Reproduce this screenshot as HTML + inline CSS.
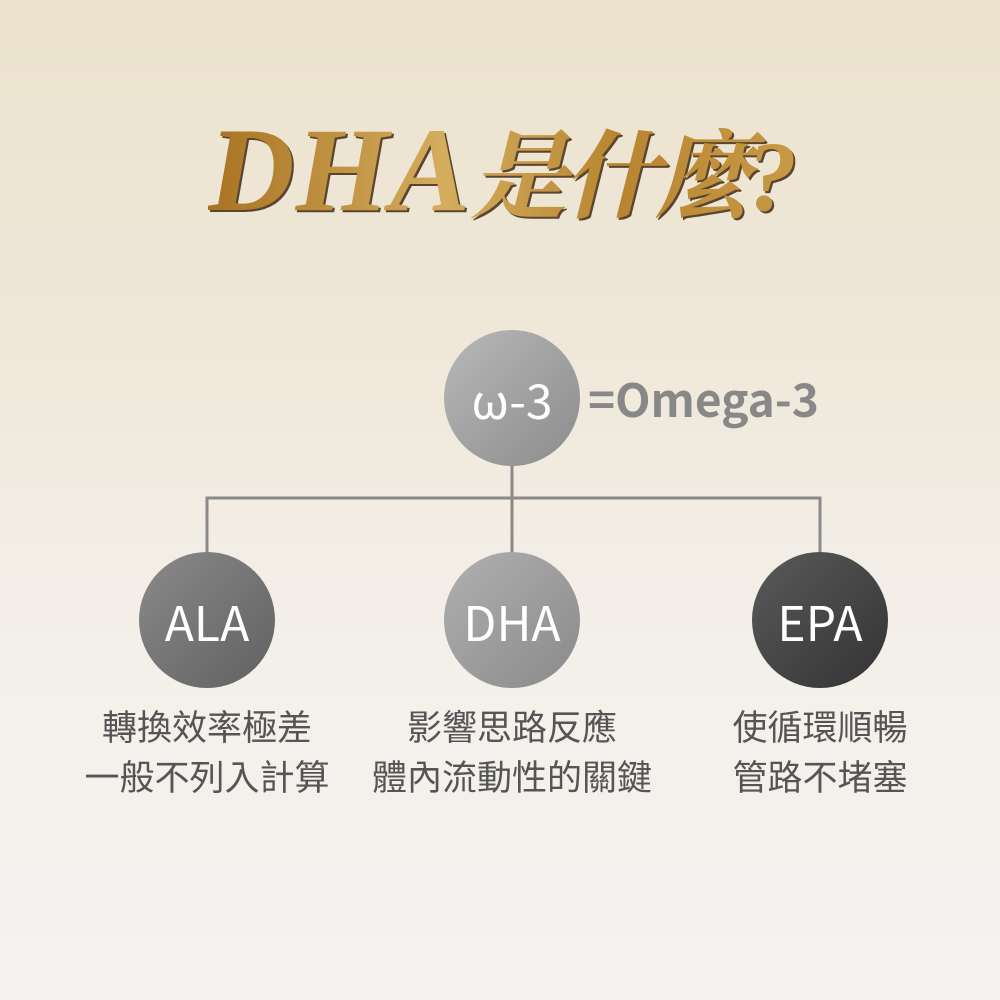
<!DOCTYPE html>
<html><head><meta charset="utf-8"><style>
html,body{margin:0;padding:0}
body{width:1000px;height:1000px;position:relative;overflow:hidden;
background:linear-gradient(#ece2cd 0%,#efe8da 35%,#f3efe8 60%,#f5f3f0 100%);
font-family:"Liberation Sans","Noto Sans CJK TC",sans-serif}
.title{position:absolute;left:208px;top:110px;font-family:"Liberation Serif","Noto Serif CJK SC",serif;font-weight:bold;font-style:italic;color:#b88a32;
background:linear-gradient(90deg,#a87322,#d4ad5e 40%,#b88530 70%,#c89a45);-webkit-background-clip:text;background-clip:text;-webkit-text-fill-color:transparent;
filter:drop-shadow(2px 2px 0 #5a4530);white-space:nowrap;line-height:1}
.c{position:absolute;width:136px;height:136px;border-radius:50%;color:#fff;font-size:48px;display:flex;align-items:center;justify-content:center;font-family:"Noto Sans CJK TC","Liberation Sans",sans-serif}
.t{position:absolute;color:#555;font-size:35px;text-align:center;width:380px;line-height:50px}
</style></head><body>
<div class="title"><span style="font-size:120px;letter-spacing:1px">DHA</span><span style="font-size:96px;font-family:'Noto Serif CJK SC',serif;letter-spacing:-4px">是什麼</span><span style="font-size:100px">?</span></div>
<svg width="1000" height="1000" style="position:absolute;left:0;top:0">
<g stroke="#8a8a8a" stroke-width="3" fill="none">
<path d="M512 460V555M207 555V498H820V555"/>
</g></svg>
<div class="c" style="left:444px;top:330px;background:linear-gradient(135deg,#b8b8b8,#8c8c8c)">ω-3</div>
<div style="position:absolute;left:588px;top:366px;font-size:46px;font-weight:bold;color:#888;font-family:'Noto Sans CJK TC','Liberation Sans',sans-serif;line-height:64px">=Omega-3</div>
<div class="c" style="left:139px;top:552px;background:linear-gradient(135deg,#8a8a8a,#606060)">ALA</div>
<div class="c" style="left:444px;top:552px;background:linear-gradient(135deg,#b0b0b0,#8a8a8a)">DHA</div>
<div class="c" style="left:752px;top:552px;background:linear-gradient(135deg,#5a5a5a,#333)">EPA</div>
<div class="t" style="left:17px;top:704px">轉換效率極差<br>一般不列入計算</div>
<div class="t" style="left:322px;top:704px">影響思路反應<br>體內流動性的關鍵</div>
<div class="t" style="left:630px;top:704px">使循環順暢<br>管路不堵塞</div>
</body></html>
